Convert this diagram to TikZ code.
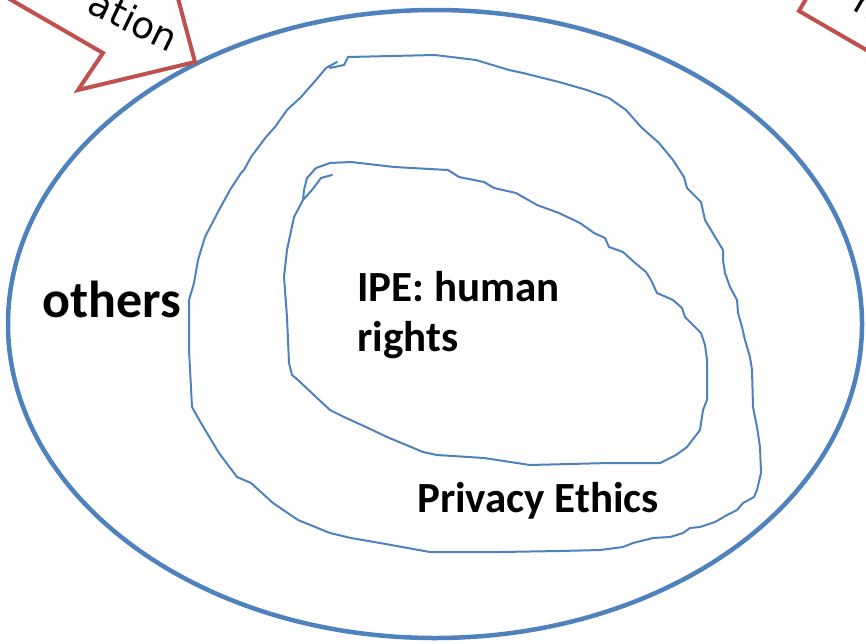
\documentclass[tikz,border=0pt]{standalone}
\usepackage{fontspec}
\setmainfont{Carlito}
\newfontfamily\arrowfont{DejaVu Sans}
\usetikzlibrary{positioning}
\definecolor{ringblue}{RGB}{79,129,189}
\definecolor{arrowred}{RGB}{192,80,77}
\begin{document}
\begin{tikzpicture}[x=1pt,y=-1pt,
	lbl/.style={inner sep=0pt,font=\bfseries\fontsize{43}{50}\selectfont},
	sketch/.style={ringblue,line width=2pt,line join=round,line cap=round},
	callout/.style={arrowred,line width=4pt,fill=white,line join=miter}]
	\useasboundingbox (0,0) rectangle (866,643);
	\clip (0,0) rectangle (866,643);
	% outer ring
	\draw[ringblue,line width=4.5pt] (435,324) ellipse [x radius=427pt,y radius=314pt];
	% arrows at the top
	\draw[callout] (-70,-47)--(103,53)--(78,90)--(195,62)--(164,-54)--(140,-13)--(-33,-113)--cycle;
	\node[inner sep=0pt,anchor=base east,rotate=-26,font=\arrowfont\fontsize{37}{40}\selectfont] (ation) at (170,53) {ation};
	\draw[callout] (874,-119)--(799,11)--(972,111)--(1047,-19)--cycle;
	\node[inner sep=0pt,anchor=base west,rotate=-30,font=\arrowfont\fontsize{37}{40}\selectfont] (rtext) at (851,9) {n};
	% privacy ethics, drawn by hand
	\draw[sketch] plot coordinates {(337,62) (326,68) (316,80) (301,97) (287,110) (275,127) (266,137) (251,157)
		(244,170) (241,173) (230,190) (219,210) (205,237) (198,260) (194,283) (189,300) (189,350) (192,407)
		(201,423) (219,453) (237,477) (251,483) (273,503) (298,520) (330,533) (351,538) (380,543) (430,552)
		(500,552) (560,551) (600,550) (623,547) (633,543) (653,538) (670,537) (683,533) (690,528) (700,527)
		(715,522) (727,515) (737,510) (743,503) (754,497) (757,490) (761,473) (760,447) (757,427) (753,407)
		(752,370) (750,357) (745,340) (742,327) (738,313) (737,300) (730,287) (725,273) (723,260) (723,250)
		(705,220) (701,202) (687,188) (684,177) (673,160) (659,143) (641,127) (626,110) (609,98) (587,90)
		(559,82) (523,73) (509,70) (476,60) (435,55) (348,57) (344,65) (330,68)};
	% human rights core
	\draw[sketch] plot coordinates {(332,175) (321,178) (312,190) (303,200) (294,217) (287,250) (284,277)
		(287,317) (289,363) (292,375) (298,380) (316,397) (330,410) (344,417) (366,427) (387,437) (423,452)
		(437,455) (484,458) (530,465) (609,463) (660,463) (676,455) (687,447) (700,430) (703,410) (707,400)
		(707,360) (705,345) (701,333) (685,317) (682,308) (673,300) (657,293) (651,280) (646,272) (634,262)
		(623,252) (609,247) (605,238) (594,233) (580,223) (559,213) (537,205) (516,193) (494,188) (484,182)
		(459,177) (448,170) (394,167) (351,162) (330,163) (316,168) (307,178) (304,190) (303,200)};
	% labels
	\node[lbl,anchor=base west,font=\bfseries\fontsize{52}{60}\selectfont] (others) at (42,317) {others};
	\node[lbl,anchor=base west] (ipe) at (357,301) {IPE: human};
	\node[lbl,anchor=base west] (rights) at (357,351) {rights};
	\node[lbl,anchor=base west] (privacy) at (417,512) {Privacy Ethics};
\end{tikzpicture}
\end{document}
